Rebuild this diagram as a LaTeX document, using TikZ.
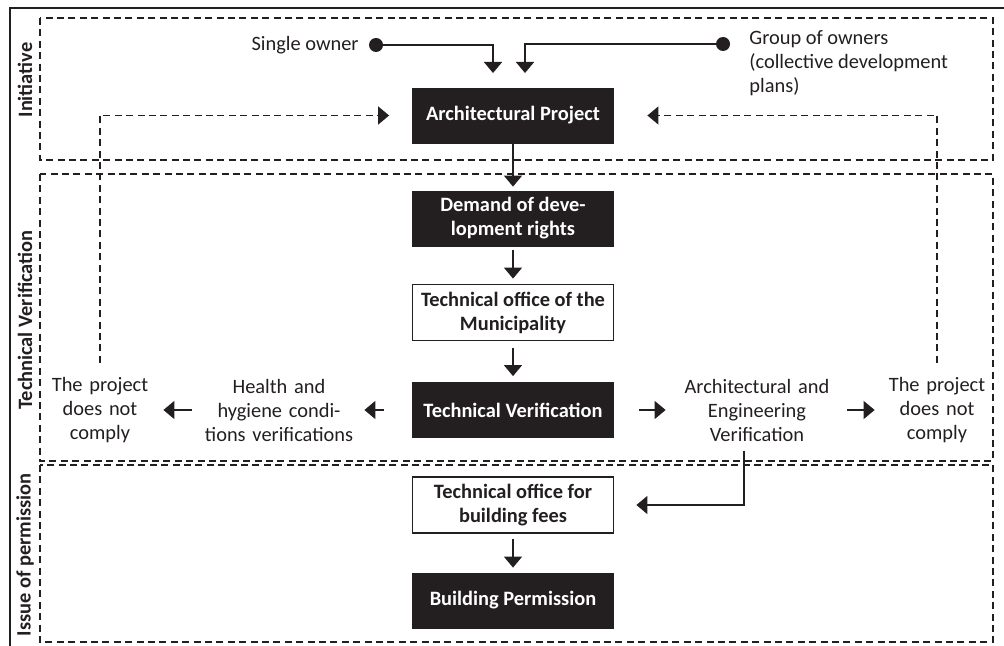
\documentclass[tikz,border=0pt]{standalone}
\usepackage{fontspec}
\setmainfont{Carlito}
\usetikzlibrary{arrows.meta}

\definecolor{ink}{RGB}{35,31,32}

\begin{document}
\begin{tikzpicture}[x=0.5pt,y=-0.5pt,
    every node/.style={font=\fontsize{10.2}{12}\selectfont, text=ink},
    blackbox/.style={fill=ink, draw=ink, text=white, font=\fontsize{10.2}{12}\selectfont\bfseries,
      minimum width=100.5pt, minimum height=27.5pt, align=center, inner sep=0pt},
    whitebox/.style={fill=white, draw=ink, line width=0.9pt, font=\fontsize{10.2}{12}\selectfont\bfseries,
      minimum width=100.5pt, minimum height=28pt, align=center, inner sep=0pt},
    sidetext/.style={align=center, inner sep=0pt},
    dot/.style={circle, fill=ink, minimum size=7pt, inner sep=0pt},
    conn/.style={draw=ink, line width=0.8pt, -{Triangle[length=5.5pt,width=9pt]}},
    fb/.style={conn, line width=0.8pt, dash pattern=on 3.5pt off 2.2pt},
    zone/.style={draw=ink, line width=0.8pt, dash pattern=on 3.5pt off 2.2pt},
    zonelabel/.style={rotate=90, font=\fontsize{10.2}{12}\selectfont\bfseries}
  ]
    \useasboundingbox (0,0) rectangle (1004,646);

    % frame and zones
    \draw[ink, line width=1.2pt] (10,646) -- (10,8) -- (1004,8);
    \draw[zone] (40,18) rectangle (993,160);
    \draw[zone] (40,174) rectangle (993,461);
    \draw[zone] (40,465) rectangle (993,642);

    \node[zonelabel] (labinit) at (25,80) {Initiative};
    \node[zonelabel] (labtech) at (25,320) {Technical Verification};
    \node[zonelabel] (labperm) at (25,555) {Issue of permission};

    % main column
    \node[blackbox] (arch) at (513,115.5) {Architectural Project};
    \node[blackbox] (demand) at (513,218.5) {Demand of deve-\\lopment rights};
    \node[whitebox] (munic) at (513,312.5) {Technical office of the\\Municipality};
    \node[blackbox] (techver) at (513,410) {Technical Verification};
    \node[whitebox] (fees) at (513,505) {Technical office for\\building fees};
    \node[blackbox] (permit) at (513,600.5) {Building Permission};

    % owners
    \node[dot] (sdot) at (376,45) {};
    \node[anchor=east, inner sep=0pt] (single) at (359,45) {Single owner};
    \node[dot] (gdot) at (723,44) {};
    \node[anchor=west, align=left, inner sep=0pt] (group) at (749,63) {Group of owners\\(collective development\\plans)};
    \coordinate (sin) at (493,73);
    \coordinate (gin) at (525,73);

    % side texts
    \node[sidetext, text width=55pt] (leftno) at (100,410) {The project\\does not\\comply};
    \node[sidetext, text width=80pt] (health) at (279,410) {Health and\\hygiene condi-\\tions verifications};
    \node[sidetext, text width=80pt] (archeng) at (757,410) {Architectural and\\Engineering\\Verification};
    \node[sidetext, text width=55pt] (rightno) at (937,410) {The project\\does not\\comply};

    % connectors
    \draw[conn] (sdot) -| (sin);
    \draw[conn] (gdot) -| (gin);
    \draw[conn, shorten >=2pt] (arch) -- (demand);
    \draw[conn, shorten <=2pt, shorten >=2.5pt] (demand) -- (munic);
    \draw[conn, shorten <=3.5pt, shorten >=3pt] (munic) -- (techver);
    \draw[conn, shorten <=2.5pt, shorten >=2.5pt] (fees) -- (permit);

    \draw[conn, shorten <=14pt, shorten >=2.5pt] (techver) -- (health);
    \draw[conn, shorten <=3.5pt, shorten >=4pt] (health) -- (leftno);
    \draw[conn, shorten <=12.5pt, shorten >=5.5pt] (techver) -- (archeng);
    \draw[conn, shorten <=5pt, shorten >=3.5pt] (archeng) -- (rightno);
    \draw[conn, shorten <=4.5pt, shorten >=11pt] ([xshift=-6.5pt]archeng.south) |- (fees);

    \draw[fb, shorten <=7pt, shorten >=11.5pt] (leftno) |- (arch);
    \draw[fb, shorten <=7pt, shorten >=16.75pt] (rightno) |- (arch);
\end{tikzpicture}
\end{document}
